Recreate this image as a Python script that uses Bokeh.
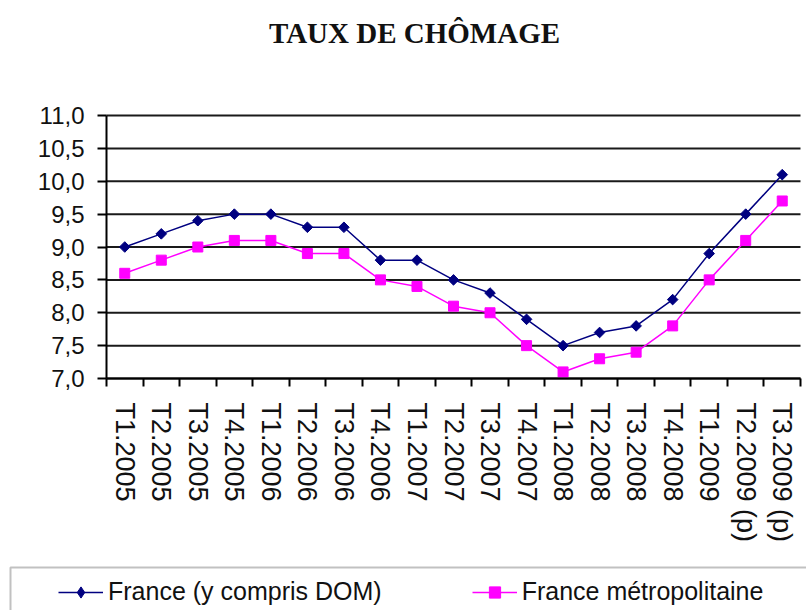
import math
from bokeh.plotting import figure
from bokeh.models import (Range1d, FixedTicker, CustomJSTickFormatter, Legend,
                          LegendItem, BoxAnnotation, LinearAxis, Label)
from bokeh.embed import file_html
from bokeh.resources import INLINE

quarters = ["T1.2005", "T2.2005", "T3.2005", "T4.2005",
            "T1.2006", "T2.2006", "T3.2006", "T4.2006",
            "T1.2007", "T2.2007", "T3.2007", "T4.2007",
            "T1.2008", "T2.2008", "T3.2008", "T4.2008",
            "T1.2009", "T2.2009 (p)", "T3.2009 (p)"]
france = [9.0, 9.2, 9.4, 9.5, 9.5, 9.3, 9.3, 8.8, 8.8, 8.5, 8.3, 7.9,
          7.5, 7.7, 7.8, 8.2, 8.9, 9.5, 10.1]
metro = [8.6, 8.8, 9.0, 9.1, 9.1, 8.9, 8.9, 8.5, 8.4, 8.1, 8.0, 7.5,
         7.1, 7.3, 7.4, 7.8, 8.5, 9.1, 9.7]
y_ticks = [7.0, 7.5, 8.0, 8.5, 9.0, 9.5, 10.0, 10.5, 11.0]

n = len(quarters)
xs = [i + 0.5 for i in range(n)]
bounds = list(range(n + 1))
y_lo, y_hi = y_ticks[0], y_ticks[-1]

# Canvas and plot-area geometry (pixels)
W, H = 806, 610
PL, PR, PT, PB = 106, 800, 115, 378
kx = (PR - PL) / n
ky = (PB - PT) / (y_hi - y_lo)

p = figure(width=W, height=H, output_backend="svg", toolbar_location=None,
           title=None, x_axis_location=None, y_axis_location=None,
           x_range=Range1d(0 - PL / kx, n + (W - PR) / kx),
           y_range=Range1d(y_lo - (H - PB) / ky, y_hi + PT / ky),
           min_border_left=0, min_border_right=0, min_border_top=0,
           min_border_bottom=0)
p.outline_line_color = None
p.xgrid.visible = False
p.ygrid.visible = False
p.background_fill_color = "white"
p.border_fill_color = "white"

# Horizontal grid lines over the plot area
p.segment(x0=[0] * len(y_ticks), x1=[n] * len(y_ticks), y0=y_ticks, y1=y_ticks,
          line_color="#1a1a1a", line_width=2)

# Y axis
yaxis = LinearAxis(fixed_location=0, bounds=(y_lo, y_hi),
                   ticker=FixedTicker(ticks=y_ticks),
                   formatter=CustomJSTickFormatter(
                       code="return tick.toFixed(1).replace('.', ',');"))
yaxis.axis_line_color = "black"
yaxis.axis_line_width = 2
yaxis.major_tick_out = 9
yaxis.major_tick_in = 0
yaxis.major_tick_line_width = 2
yaxis.minor_tick_line_color = None
yaxis.major_label_text_font = "Liberation Sans"
yaxis.major_label_text_font_size = "24px"
yaxis.major_label_text_color = "#111111"
yaxis.major_label_standoff = 13
p.add_layout(yaxis, "left")

# X axis
xaxis = LinearAxis(fixed_location=y_lo, bounds=(0, n),
                   ticker=FixedTicker(ticks=xs, minor_ticks=bounds),
                   formatter=CustomJSTickFormatter(args=dict(labels=quarters),
                                                   code="return labels[Math.floor(tick)];"))
xaxis.axis_line_color = "black"
xaxis.axis_line_width = 2
xaxis.major_tick_out = 0
xaxis.major_tick_in = 0
xaxis.minor_tick_out = 8
xaxis.minor_tick_in = 0
xaxis.minor_tick_line_color = "black"
xaxis.minor_tick_line_width = 2
xaxis.major_label_orientation = -math.pi / 2
xaxis.major_label_text_font = "Liberation Sans"
xaxis.major_label_text_font_size = "27px"
xaxis.major_label_text_color = "#111111"
xaxis.major_label_standoff = 16
p.add_layout(xaxis, "below")

# Series
navy = "#000080"
magenta = "#FF00FF"
l1 = p.line(xs, france, line_color=navy, line_width=1.5)
s1 = p.scatter(xs, france, marker="square", angle=math.pi / 4, size=7.5,
               fill_color=navy, line_color=navy)
l2 = p.line(xs, metro, line_color=magenta, line_width=1.5)
s2 = p.scatter(xs, metro, marker="square", size=10,
               fill_color=magenta, line_color=magenta)
# legend-only key glyph (not plotted: NaN position) so the legend shows a diamond
s1_key = p.scatter(x=[float("nan")], y=[float("nan")], marker="diamond", size=11,
                   fill_color=navy, line_color=navy)

# Title
p.add_layout(Label(x=414, y=H - 32, x_units="screen", y_units="screen",
                   text="TAUX DE CHÔMAGE", text_align="center",
                   text_baseline="alphabetic", text_font="Liberation Serif",
                   text_font_style="bold", text_font_size="29px",
                   text_color="#111111"))

# Legend box
box = BoxAnnotation(left=10, right=1000, top=567, bottom=900,
                    left_units="canvas", right_units="canvas",
                    top_units="canvas", bottom_units="canvas",
                    fill_alpha=0, line_color="#333333", line_width=2)
p.add_layout(box)

legend = Legend(items=[LegendItem(label="France (y compris DOM)", renderers=[l1, s1_key]),
                       LegendItem(label="France métropolitaine", renderers=[l2, s2])],
                orientation="horizontal", location=(58, 4), padding=0, margin=0,
                spacing=90, glyph_width=45, glyph_height=28, label_standoff=5,
                label_height=28, label_text_font="Liberation Sans",
                label_text_font_size="25px", label_text_color="#111111",
                border_line_color=None, background_fill_alpha=0)
p.add_layout(legend)

open("out.html", "w").write(file_html(p, INLINE))
